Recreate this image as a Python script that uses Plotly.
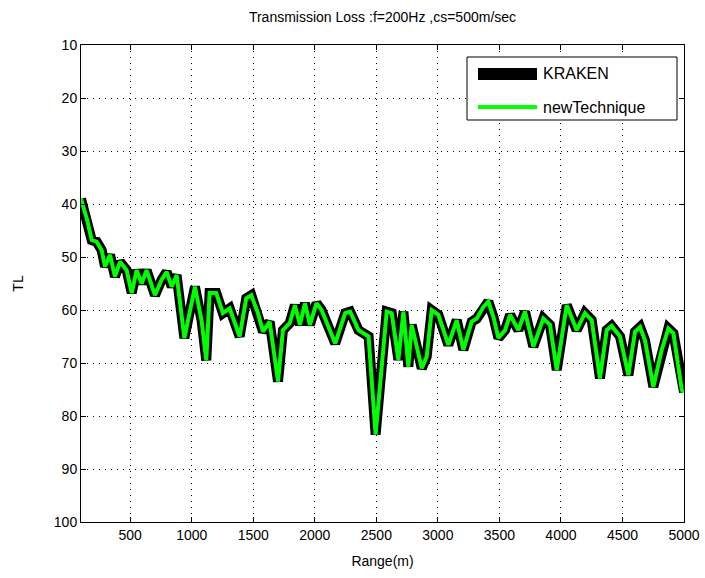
import plotly.graph_objects as go

# Range (m) and transmission loss (dB)
range_m = [100, 150, 187, 227, 268, 295, 336, 376, 417, 471, 512, 552, 593, 633, 701,
           755, 796, 837, 877, 940, 1026, 1080, 1118, 1145, 1199, 1253, 1308, 1389,
           1443, 1484, 1538, 1579, 1633, 1701, 1741, 1796, 1838, 1879, 1920, 1960,
           2014, 2055, 2166, 2247, 2287, 2355, 2437, 2494, 2584, 2625, 2679, 2720,
           2760, 2787, 2869, 2909, 2950, 3004, 3085, 3153, 3207, 3275, 3316, 3370,
           3410, 3451, 3492, 3546, 3587, 3654, 3708, 3776, 3857, 3911, 3966, 4047,
           4128, 4195, 4250, 4317, 4372, 4412, 4480, 4548, 4602, 4643, 4683, 4751,
           4819, 4873, 4914, 4982, 5000]
tl_kraken = [39.0, 43.0, 46.8, 47.1, 48.7, 51.8, 49.6, 53.7, 50.9, 52.5, 56.8, 52.5,
             55.0, 52.5, 57.2, 54.3, 52.8, 55.6, 53.4, 65.3, 55.6, 62.0, 69.5, 56.8,
             56.8, 60.6, 59.7, 65.0, 57.8, 57.2, 60.6, 64.1, 62.2, 73.5, 63.8, 62.5,
             59.1, 62.8, 58.7, 62.8, 58.7, 60.0, 66.3, 60.6, 60.3, 63.8, 65.0, 83.5,
             60.3, 60.6, 69.4, 60.3, 70.7, 62.8, 71.0, 68.8, 60.0, 60.9, 66.6, 61.9,
             67.5, 62.2, 61.6, 59.4, 58.4, 61.3, 65.3, 63.8, 60.9, 63.8, 60.3, 66.9,
             61.6, 62.8, 71.3, 59.1, 63.8, 60.6, 61.9, 72.9, 63.8, 63.0, 65.0, 72.3,
             64.1, 63.2, 65.7, 74.5, 67.5, 63.5, 64.4, 75.1, 75.5]
tl_new = list(tl_kraken)

series_names = ["KRAKEN", "newTechnique"]
series_colors = ["black", "#00ff00"]
series_widths = [10, 4]

x_ticks = [500, 1000, 1500, 2000, 2500, 3000, 3500, 4000, 4500, 5000]
y_ticks = [10, 20, 30, 40, 50, 60, 70, 80, 90, 100]

FONT = "Liberation Sans, Arial, sans-serif"
W, H = 705, 578
L, R, T, B = 81, 684, 45, 522


def px_x(p):
    return (p - L) / (R - L)


def px_y(p):
    return 1 - (p - T) / (B - T)


fig = go.Figure()
for yv, nm, col, wd in zip([tl_kraken, tl_new], series_names, series_colors, series_widths):
    fig.add_trace(go.Scatter(x=range_m, y=yv, mode="lines", name=nm,
                             line=dict(color=col, width=wd), showlegend=False))

axis_common = dict(
    showline=True, linecolor="black", linewidth=1, mirror="allticks",
    ticks="inside", ticklen=5, tickcolor="black",
    showgrid=True, gridcolor="black", gridwidth=1, griddash="1px,5px",
    zeroline=False, automargin=False,
    tickfont=dict(family=FONT, size=14, color="black"),
)

fig.update_xaxes(range=[100, 5000], tickvals=x_ticks,
                 title=dict(text="Range(m)", font=dict(family=FONT, size=14, color="black"),
                            standoff=14),
                 **axis_common)
fig.update_yaxes(range=[100, 10], tickvals=y_ticks,
                 title=dict(text="TL", font=dict(family=FONT, size=14, color="black"),
                            standoff=26),
                 **axis_common)

# Legend drawn as a boxed key (MATLAB style)
shapes = [
    dict(type="rect", xref="paper", yref="paper",
         x0=px_x(467), x1=px_x(677), y0=px_y(120), y1=px_y(57),
         line=dict(color="black", width=1), fillcolor="white", layer="above"),
    dict(type="line", xref="paper", yref="paper",
         x0=px_x(478), x1=px_x(537), y0=px_y(74), y1=px_y(74),
         line=dict(color=series_colors[0], width=12), layer="above"),
    dict(type="line", xref="paper", yref="paper",
         x0=px_x(478), x1=px_x(537), y0=px_y(107), y1=px_y(107),
         line=dict(color=series_colors[1], width=4), layer="above"),
]
annotations = [
    dict(text=series_names[0], xref="paper", yref="paper", x=px_x(541), y=px_y(74),
         xanchor="left", yanchor="middle", showarrow=False,
         font=dict(family=FONT, size=16, color="black")),
    dict(text=series_names[1], xref="paper", yref="paper", x=px_x(541), y=px_y(107),
         xanchor="left", yanchor="middle", showarrow=False,
         font=dict(family=FONT, size=16, color="black")),
]

fig.update_layout(
    width=W, height=H,
    margin=dict(l=L, r=W - R, t=T, b=H - B),
    paper_bgcolor="white", plot_bgcolor="white",
    title=dict(text="Transmission Loss :f=200Hz ,cs=500m/sec",
               font=dict(family=FONT, size=14, color="black"),
               x=0.5 * (L + R) / W, xanchor="center", y=1 - 17 / H, yanchor="middle"),
    showlegend=False,
    shapes=shapes,
    annotations=annotations,
)

fig.write_html("out.html")
